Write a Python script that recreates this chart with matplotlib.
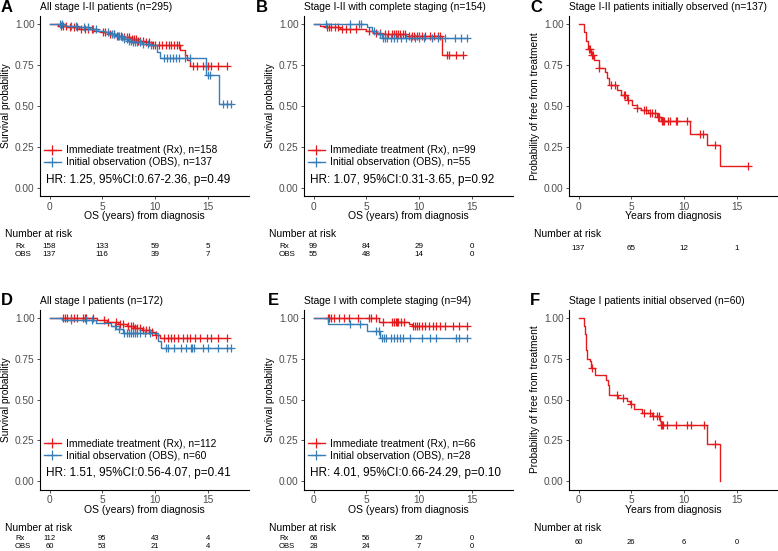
import matplotlib
matplotlib.use("Agg")
import matplotlib.pyplot as plt
import matplotlib.transforms as mtransforms
import numpy as np

plt.rcParams['font.family'] = ['Liberation Sans', 'DejaVu Sans']

W, H = 778, 551
RED = '#E41A1C'
BLUE = '#377EB8'

# ---- panel A: all stage I-II ----
a_rx_t = [0.8, 1.7, 2.8, 4.2, 5.0, 5.6, 6.2, 6.9, 7.6, 8.3, 9.0, 9.7, 12.4, 12.8, 13.0, 13.3]
a_rx_s = [0.99, 0.98, 0.97, 0.96, 0.95, 0.94, 0.93, 0.92, 0.91, 0.90, 0.89, 0.87, 0.84, 0.81, 0.78, 0.745]
a_rx_c = [1.1, 1.3, 1.6, 1.9, 2.3, 2.6, 3.0, 3.4, 3.6, 4.0, 5.1, 5.3, 5.7, 6.1, 6.4, 6.8, 7.1, 7.3,
          7.5, 7.8, 8.0, 8.2, 8.4, 8.6, 8.9, 9.1, 9.4, 9.8, 10.0, 10.4, 10.7, 11.0, 11.3, 11.5,
          11.8, 12.1, 12.3, 13.6, 14.0, 14.5, 14.8, 15.0, 15.3, 16.0, 16.8]
a_obs_t = [1.5, 2.8, 3.8, 4.6, 5.3, 5.8, 6.3, 6.7, 7.0, 7.4, 7.9, 8.8, 9.5, 10.2, 10.5, 14.8, 16.1]
a_obs_s = [0.99, 0.98, 0.97, 0.96, 0.95, 0.94, 0.93, 0.92, 0.91, 0.90, 0.89, 0.88, 0.87, 0.83, 0.795, 0.69, 0.515]
a_obs_c = [1.0, 1.2, 2.0, 2.5, 3.3, 3.6, 4.1, 4.4, 5.5, 5.9, 6.1, 6.5, 6.6, 6.9, 7.1, 7.3, 7.5, 7.7,
           7.9, 8.1, 8.3, 8.6, 8.9, 9.3, 9.6, 10.8, 11.1, 11.4, 11.7, 12.0, 12.3, 12.8, 13.3,
           15.0, 15.2, 16.4, 16.8, 17.2]

# ---- panel B: stage I-II with complete staging ----
b_rx_t = [0.6, 1.2, 2.5, 5.0, 5.6, 6.4, 8.8, 12.2]
b_rx_s = [0.99, 0.98, 0.968, 0.957, 0.947, 0.94, 0.93, 0.81]
b_rx_c = [1.3, 1.5, 1.7, 2.0, 2.3, 2.7, 3.1, 3.5, 4.0, 5.3, 5.9, 6.3, 6.8, 7.1, 7.4, 7.6, 7.8, 8.0,
          8.2, 8.5, 8.7, 9.0, 9.3, 9.5, 9.8, 10.0, 10.3, 10.6, 11.0, 11.4, 11.8, 12.0, 12.6, 12.8,
          13.5, 14.2]
b_obs_t = [5.1, 5.5, 6.0, 6.5]
b_obs_s = [0.98, 0.96, 0.94, 0.915]
b_obs_c = [1.2, 3.5, 4.3, 4.5, 5.7, 6.3, 6.6, 6.8, 7.0, 7.3, 7.6, 7.9, 8.3, 8.8, 9.2, 9.6, 10.0,
           10.5, 11.2, 11.8, 12.5, 13.4, 14.0, 14.5]

# ---- panel C: stage I-II initially observed, free from treatment ----
c_t = [0.5, 0.7, 0.9, 1.2, 1.5, 1.9, 2.5, 2.7, 2.9, 3.6, 4.0, 4.6, 5.1, 5.5, 5.9, 6.6, 7.4, 7.8, 10.6, 12.2, 13.4]
c_s = [0.95, 0.90, 0.85, 0.81, 0.78, 0.73, 0.71, 0.67, 0.63, 0.60, 0.567, 0.537, 0.506, 0.49, 0.475,
       0.455, 0.435, 0.41, 0.33, 0.262, 0.134]
c_c = [1.0, 1.1, 1.3, 1.4, 1.95, 3.1, 3.5, 4.3, 4.4, 4.7, 5.5, 6.2, 6.4, 6.8, 7.0, 7.2, 7.5, 7.6,
       7.9, 8.0, 8.1, 8.5, 8.7, 9.2, 9.3, 10.3, 11.5, 11.8, 12.9, 16.1]

# ---- panel D: all stage I ----
d_rx_t = [4.5, 5.4, 6.5, 7.3, 8.0, 8.8, 9.5, 10.0, 10.5]
d_rx_s = [0.988, 0.976, 0.962, 0.948, 0.935, 0.922, 0.91, 0.895, 0.875]
d_rx_c = [1.3, 1.5, 1.7, 2.0, 2.3, 2.6, 3.2, 3.4, 3.5, 4.1, 5.2, 5.5, 6.3, 6.7, 7.0, 7.4, 7.7, 7.9,
          8.1, 8.3, 8.6, 8.9, 9.1, 9.4, 9.7, 10.1, 10.8, 11.2, 11.5, 11.8, 12.2, 12.6, 13.0, 13.3,
          13.8, 14.3, 14.9, 15.3, 16.0, 16.8]
d_obs_t = [1.2, 4.4, 5.8, 6.3, 7.0, 10.3, 10.6]
d_obs_s = [0.983, 0.966, 0.948, 0.93, 0.905, 0.86, 0.815]
d_obs_c = [2.0, 3.5, 4.0, 6.2, 6.6, 7.1, 7.3, 7.5, 7.7, 7.9, 8.1, 8.3, 8.6, 9.0, 9.5, 11.0, 11.2,
           11.8, 12.5, 12.9, 13.4, 13.5, 13.7, 14.5, 15.0, 16.0, 16.8, 17.2]

# ---- panel E: stage I with complete staging ----
e_rx_t = [6.2, 9.0, 9.3]
e_rx_s = [0.975, 0.963, 0.951]
e_rx_c = [1.35, 1.5, 1.66, 1.98, 2.45, 2.93, 3.4, 4.2, 5.3, 5.4, 5.9, 6.6, 7.4, 7.6, 7.8, 7.9, 8.0,
          8.3, 8.6, 9.4, 9.6, 9.8, 10.0, 10.3, 10.6, 10.9, 11.3, 11.6, 12.0, 12.5, 13.2, 13.8, 14.5]
e_obs_t = [1.35, 5.1, 6.3]
e_obs_s = [0.964, 0.921, 0.877]
e_obs_c = [3.5, 4.4, 5.9, 6.2, 6.5, 6.7, 6.9, 7.3, 7.6, 7.9, 8.2, 8.5, 9.1, 10.3, 11.0, 11.6, 13.5,
           13.8, 14.5]

# ---- panel F: stage I initially observed, free from treatment ----
f_t = [0.5, 0.6, 0.7, 0.75, 0.85, 1.1, 1.2, 1.6, 2.6, 2.75, 2.9, 3.7, 4.6, 4.9, 5.3, 6.0, 7.0, 7.7,
       7.8, 12.2, 13.4]
f_s = [0.95, 0.90, 0.85, 0.80, 0.75, 0.733, 0.69, 0.65, 0.62, 0.59, 0.53, 0.51, 0.49, 0.47, 0.44,
       0.42, 0.40, 0.37, 0.345, 0.23, 0.0]
f_c = [1.3, 3.6, 4.2, 5.0, 6.2, 6.8, 7.1, 7.4, 7.6, 7.85, 7.9, 8.0, 8.4, 9.2, 10.3, 10.7, 11.9, 12.9]

risk_times = [0, 5, 10, 15]
a_risk = {'Rx': [158, 133, 59, 5], 'OBS': [137, 116, 39, 7]}
b_risk = {'Rx': [99, 84, 29, 0], 'OBS': [55, 48, 14, 0]}
c_risk = [137, 65, 12, 1]
d_risk = {'Rx': [112, 95, 43, 4], 'OBS': [60, 53, 21, 4]}
e_risk = {'Rx': [66, 56, 20, 0], 'OBS': [28, 24, 7, 0]}
f_risk = [60, 26, 6, 0]

fig = plt.figure(figsize=(W / 100, H / 100), dpi=100)


def km_line(ev_t, ev_s, cens):
    end = max(list(ev_t) + list(cens))
    x = [0.0] + list(ev_t) + [end]
    y = [1.0] + list(ev_s) + [ev_s[-1]]
    idx = np.searchsorted(ev_t, cens, side='right')
    lv = np.concatenate([[1.0], ev_s])
    return x, y, np.array(cens), lv[idx]


def panel(left, top, letter, title, curves, ylabel, xlabel, hr=None, lx=None):
    ax = fig.add_axes([left / W, 1 - (top + 180) / H, 209 / W, 180 / H])
    handles = []
    for t, s, c, col, lab in curves:
        x, y, cx, cy = km_line(t, s, c)
        ax.step(x, y, where='post', color=col, lw=1.0)
        ax.plot(cx, cy, ls='none', marker='+', ms=6, mew=0.9, color=col)
        h, = ax.plot([], [], color=col, lw=1.0, marker='+', ms=7, mew=0.9, label=lab)
        handles.append(h)
    ax.set_xlim(-0.9, 18.9)
    ax.set_ylim(-0.05, 1.05)
    ax.set_xticks([0, 5, 10, 15])
    ax.set_yticks([0, 0.25, 0.5, 0.75, 1.0])
    ax.set_yticklabels(['0.00', '0.25', '0.50', '0.75', '1.00'])
    ax.tick_params(labelsize=7.3, labelcolor='#4D4D4D', color='#333333', length=2.5, width=0.6, pad=1.5)
    for sp in ['top', 'right']:
        ax.spines[sp].set_visible(False)
    for sp in ['left', 'bottom']:
        ax.spines[sp].set_linewidth(0.8)
    ax.set_title(title, loc='left', fontsize=7.4, pad=4)
    ax.set_ylabel(ylabel, fontsize=7.3)
    ax.yaxis.set_label_coords(-0.14, 0.5)
    ax.set_xlabel(xlabel, fontsize=7.5)
    ax.xaxis.set_label_coords(0.5, -0.085)
    fig.text(lx / W, 1 - (top - 9) / H, letter, fontsize=12, fontweight='bold', va='center')
    if hr is not None:
        ax.legend(handles=handles, loc='lower left', bbox_to_anchor=(0.02, 0.16), frameon=False,
                  fontsize=7.4, handlelength=1.6, handletextpad=0.5, labelspacing=0.2,
                  borderpad=0, borderaxespad=0)
        ax.text(0.03, 0.09, hr, transform=ax.transAxes, fontsize=8.5, va='center')
    return ax


def risk_table(ax, left, y0, rows, first, dy, fs):
    tr = mtransforms.blended_transform_factory(ax.transData, fig.transFigure)
    fig.text((left - 35) / W, 1 - y0 / H, 'Number at risk', fontsize=7.4, va='center')
    if isinstance(rows, dict):
        for i, (name, vals) in enumerate(rows.items()):
            yy = 1 - (y0 + first + i * dy) / H
            fig.text((left - 25) / W, yy, name, fontsize=fs, va='center')
            for t, v in zip(risk_times, vals):
                ax.text(t, yy, str(v), transform=tr, fontsize=fs, ha='center', va='center')
    else:
        yy = 1 - (y0 + first) / H
        for t, v in zip(risk_times, rows):
            ax.text(t, yy, str(v), transform=tr, fontsize=fs, ha='center', va='center')


OS = 'OS (years) from diagnosis'
FT = 'Years from diagnosis'
SP = 'Survival probability'
PF = 'Probability of free from treatment'
lab_rx = 'Immediate treatment (Rx), n=%d'
lab_obs = 'Initial observation (OBS), n=%d'

axA = panel(40, 16, 'A', 'All stage I-II patients (n=295)',
            [(a_rx_t, a_rx_s, a_rx_c, RED, lab_rx % 158), (a_obs_t, a_obs_s, a_obs_c, BLUE, lab_obs % 137)],
            SP, OS, 'HR: 1.25, 95%CI:0.67-2.36, p=0.49', lx=1)
risk_table(axA, 40, 234, a_risk, 12, 8.3, 5.8)

axB = panel(304, 16, 'B', 'Stage I-II with complete staging (n=154)',
            [(b_rx_t, b_rx_s, b_rx_c, RED, lab_rx % 99), (b_obs_t, b_obs_s, b_obs_c, BLUE, lab_obs % 55)],
            SP, OS, 'HR: 1.07, 95%CI:0.31-3.65, p=0.92', lx=256)
risk_table(axB, 304, 234, b_risk, 12, 8.3, 5.8)

axC = panel(569, 16, 'C', 'Stage I-II patients initially observed (n=137)',
            [(c_t, c_s, c_c, RED, None)], PF, FT, lx=530)
risk_table(axC, 569, 234, c_risk, 15, 0, 5.8)

axD = panel(40, 309.5, 'D', 'All stage I patients (n=172)',
            [(d_rx_t, d_rx_s, d_rx_c, RED, lab_rx % 112), (d_obs_t, d_obs_s, d_obs_c, BLUE, lab_obs % 60)],
            SP, OS, 'HR: 1.51, 95%CI:0.56-4.07, p=0.41', lx=1)
risk_table(axD, 40, 528, d_risk, 10.5, 7.8, 5.5)

axE = panel(304, 309.5, 'E', 'Stage I with complete staging (n=94)',
            [(e_rx_t, e_rx_s, e_rx_c, RED, lab_rx % 66), (e_obs_t, e_obs_s, e_obs_c, BLUE, lab_obs % 28)],
            SP, OS, 'HR: 4.01, 95%CI:0.66-24.29, p=0.10', lx=268)
risk_table(axE, 304, 528, e_risk, 10.5, 7.8, 5.5)

axF = panel(569, 309.5, 'F', 'Stage I patients initial observed (n=60)',
            [(f_t, f_s, f_c, RED, None)], PF, FT, lx=530)
risk_table(axF, 569, 528, f_risk, 14.5, 0, 5.5)

fig.savefig('out.png', dpi=100)
